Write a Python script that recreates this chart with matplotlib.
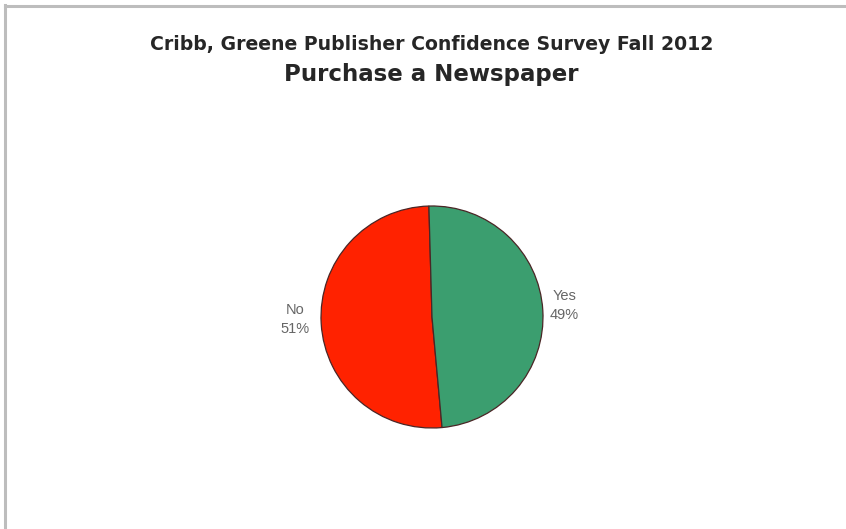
import matplotlib
matplotlib.use('Agg')
import matplotlib.pyplot as plt
from matplotlib.lines import Line2D

# survey answers
answers = ["No", "Yes"]
shares = [51, 49]
colors = ["#ff2200", "#3b9e6f"]

plt.rcParams['font.family'] = ['Liberation Sans', 'DejaVu Sans']

fig = plt.figure(figsize=(8.46, 5.29), dpi=100)
fig.patch.set_facecolor('white')

# grey frame along the left and top edges
fig.add_artist(Line2D([5 / 846, 5 / 846], [0, 1 - 5 / 529], transform=fig.transFigure,
                      color='#bdbdbd', lw=2.2))
fig.add_artist(Line2D([5 / 846, 1], [1 - 6 / 529, 1 - 6 / 529], transform=fig.transFigure,
                      color='#bdbdbd', lw=2.2))

fig.text(0.510, 1 - 45 / 529, "Cribb, Greene Publisher Confidence Survey Fall 2012",
         ha='center', va='center', fontsize=13.6, fontweight='bold', color='#262626',
         family='DejaVu Sans')
fig.text(0.510, 1 - 74 / 529, "Purchase a Newspaper",
         ha='center', va='center', fontsize=16.5, fontweight='bold', color='#262626',
         family='DejaVu Sans')

# pie axes: centre ~ (432, 317) px, radius ~ 111 px
r = 111
cx, cy = 432, 317
ax = fig.add_axes([(cx - r) / 846, 1 - (cy + r) / 529, 2 * r / 846, 2 * r / 529])
wedges, _ = ax.pie(shares, colors=colors, startangle=91.6, counterclock=True,
                   radius=1.0,
                   wedgeprops={'edgecolor': '#4a2626', 'linewidth': 0.9})
ax.set_xlim(-1, 1)
ax.set_ylim(-1, 1)
ax.set_aspect('equal')
ax.axis('off')

# category labels beside the slices
label_pos = {"No": (-1.10, -0.02, 'right'), "Yes": (1.06, 0.10, 'left')}
for name, val in zip(answers, shares):
    x, y, ha = label_pos[name]
    ax.text(x, y, f"{name}\n{val}%", ha=ha, va='center', multialignment='center',
            fontsize=10.5, color='#666666', linespacing=1.45)

plt.savefig('out.png', dpi=100, facecolor=fig.get_facecolor())
